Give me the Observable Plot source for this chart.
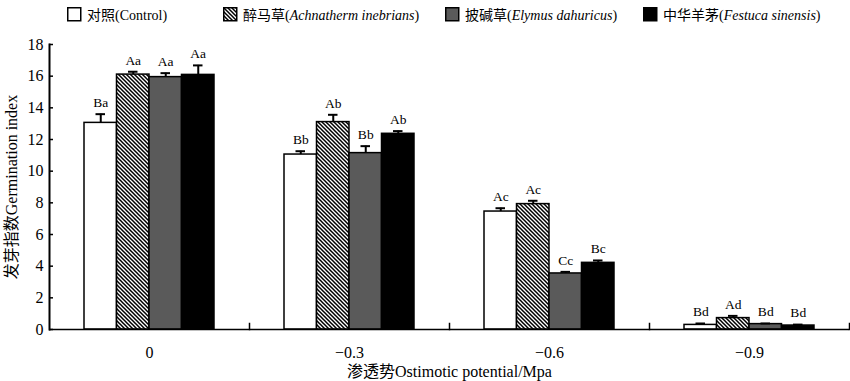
<!DOCTYPE html>
<html>
<head>
<meta charset="utf-8">
<script src="https://cdn.jsdelivr.net/npm/d3@7"></script>
<script src="https://cdn.jsdelivr.net/npm/@observablehq/plot@0.6"></script>
<style>
  body { margin: 0; background: white; }
  #wrap { position: relative; width: 850px; }
  #legend { position: relative; height: 24px; width: 850px; font-family: "Liberation Serif", "Times New Roman", "Noto Sans CJK SC", serif; font-size: 14px; color: black; }
  .item { position: absolute; top: 4px; display: flex; align-items: center; white-space: nowrap; }
  .item svg { display: block; margin-right: 5px; }
  .item i { font-style: italic; }
  #chart svg, #chart svg g, #chart svg text { font-family: "Liberation Serif", "Times New Roman", "Noto Sans CJK SC", serif !important; }
</style>
</head>
<body>
<div id="wrap">
  <div id="legend"></div>
  <div id="chart"></div>
</div>
<script>
// ---------- data ----------
const groups = ["0", "\u22120.3", "\u22120.6", "\u22120.9"];
const series = ["Control", "Achnatherum", "Elymus", "Festuca"];
const legendCN = ["对照", "醉马草", "披碱草", "中华羊茅"];
const legendLatin = ["Control", "Achnatherm inebrians", "Elymus dahuricus", "Festuca sinensis"];
const legendItalic = [false, true, true, true];

const controlValues = [13.05, 11.05, 7.45, 0.29];
const achnatherumValues = [16.10, 13.10, 7.92, 0.72];
const elymusValues = [15.94, 11.14, 3.54, 0.34];
const festucaValues = [16.08, 12.36, 4.21, 0.25];

const controlErr = [0.55, 0.21, 0.21, 0.09];
const achnatherumErr = [0.18, 0.46, 0.21, 0.14];
const elymusErr = [0.25, 0.44, 0.10, 0.04];
const festucaErr = [0.60, 0.17, 0.15, 0.06];

const controlLetters = ["Ba", "Bb", "Ac", "Bd"];
const achnatherumLetters = ["Aa", "Ab", "Ac", "Ad"];
const elymusLetters = ["Aa", "Bb", "Cc", "Bd"];
const festucaLetters = ["Aa", "Ab", "Bc", "Bd"];

const yTicks = [0, 2, 4, 6, 8, 10, 12, 14, 16, 18];
const yLabel = "发芽指数Germination index";
const xLabel = "渗透势Ostimotic potential/Mpa";

// ---------- build table ----------
const valueSets = [controlValues, achnatherumValues, elymusValues, festucaValues];
const errSets = [controlErr, achnatherumErr, elymusErr, festucaErr];
const letterSets = [controlLetters, achnatherumLetters, elymusLetters, festucaLetters];
const rows = [];
groups.forEach((g, gi) => {
  series.forEach((s, si) => {
    rows.push({group: g, series: s, value: valueSets[si][gi], err: errSets[si][gi], letter: letterSets[si][gi]});
  });
});

const FONT = '"Liberation Serif", "Times New Roman", "Noto Sans CJK SC", serif';
const GRAY = "#5a5a5a";
const fills = ["white", "url(#hatch)", GRAY, "black"];

// ---------- layout ----------
const W = 850, H = 357;
const mL = 49, mR = 1, mT = 20, mB = 52;
const plotH = H - mT - mB;
const facetW = (W - mL - mR) / groups.length;

const chart = Plot.plot({
  width: W, height: H,
  marginLeft: mL, marginRight: mR, marginTop: mT, marginBottom: mB,
  style: {fontFamily: FONT, background: "white", color: "black", overflow: "visible"},
  fx: {domain: groups, padding: 0, round: false, axis: null, label: null},
  x: {domain: series, paddingInner: 0, paddingOuter: 1.077, round: false, axis: null},
  y: {domain: [0, 18], axis: null},
  color: {type: "ordinal", domain: series, range: fills},
  marks: [
    Plot.barY(rows, {fx: "group", x: "series", y: "value", fill: "series", stroke: "black", strokeWidth: 1.5}),
    Plot.ruleX(rows, {fx: "group", x: "series", y1: "value", y2: d => d.value + d.err, stroke: "black", strokeWidth: 2}),
    Plot.tickY(rows, {fx: "group", x: "series", y: d => d.value + d.err, stroke: "black", strokeWidth: 2, insetLeft: 11.5, insetRight: 11.5}),
    Plot.text(rows, {fx: "group", x: "series", y: d => d.value + d.err, text: "letter", dy: -11.5, fontSize: 13.5, fontFamily: FONT, fill: "black"}),
    Plot.ruleY([0], {stroke: "black", strokeWidth: 1.5}),
    Plot.frame({anchor: "right", insetTop: plotH - 6, stroke: "black", strokeWidth: 1.5}),
    Plot.frame({anchor: "left", facet: "super", stroke: "black", strokeWidth: 2}),
    Plot.tickY(yTicks, {y: d => d, fx: () => groups[0], insetRight: facetW - 4, stroke: "black", strokeWidth: 1.5}),
    Plot.axisY({ticks: yTicks, tickSize: 0, tickPadding: 6, fontSize: 16, fontFamily: FONT, label: yLabel, labelAnchor: "center", labelArrow: "none", labelOffset: 43.5}),
    Plot.axisFx({anchor: "bottom", tickSize: 0, tickPadding: 17, fontSize: 16, fontFamily: FONT, label: xLabel, labelAnchor: "center", labelArrow: "none", labelOffset: 47})
  ]
});

// hatch pattern defs
const ns = "http://www.w3.org/2000/svg";
function hatchDefs(id) {
  const defs = document.createElementNS(ns, "defs");
  defs.innerHTML = `<pattern id="${id}" patternUnits="userSpaceOnUse" width="4" height="4">
    <rect width="4" height="4" fill="white"/>
    <path d="M-1,-1L5,5M3,-1L5,1M-1,3L1,5" stroke="black" stroke-width="1.5"/>
  </pattern>`;
  return defs;
}
chart.insertBefore(hatchDefs("hatch"), chart.firstChild);
document.getElementById("chart").appendChild(chart);

// ---------- legend ----------
const legendLeft = [67, 223, 445, 643];
const legend = document.getElementById("legend");
series.forEach((s, i) => {
  const item = document.createElement("div");
  item.className = "item";
  item.style.left = legendLeft[i] + "px";
  const fill = i === 1 ? "url(#hatchL)" : fills[i];
  item.innerHTML = `<svg width="15" height="15"><rect x="0.75" y="0.75" width="13" height="13" fill="${fill}" stroke="black" stroke-width="1.5"/></svg>` +
    `<span>${legendCN[i]}(${legendItalic[i] ? "<i>" + legendLatin[i] + "</i>" : legendLatin[i]})</span>`;
  if (i === 1) item.querySelector("svg").insertBefore(hatchDefs("hatchL"), item.querySelector("svg").firstChild);
  legend.appendChild(item);
});
</script>
</body>
</html>
